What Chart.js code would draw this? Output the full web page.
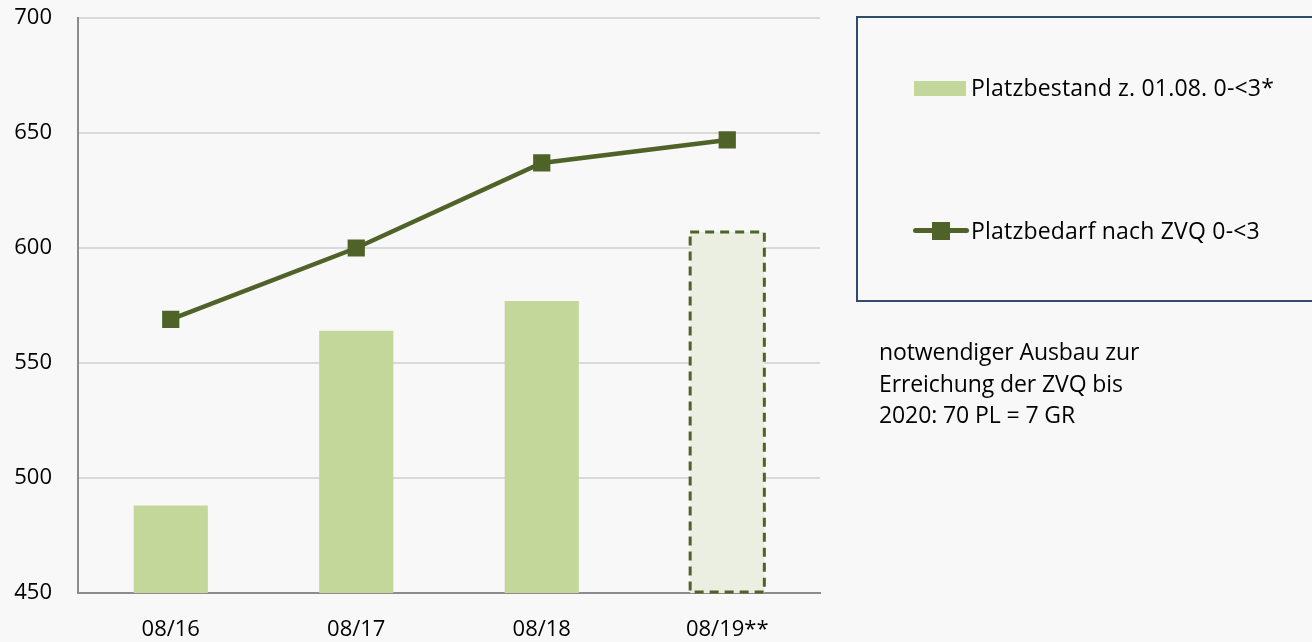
<!DOCTYPE html>
<html><head><meta charset="utf-8">
<script src="https://cdn.jsdelivr.net/npm/chart.js@4/dist/chart.umd.min.js"></script>
<style>
html,body{margin:0;padding:0;background:#f8f8f8;}
#wrap{position:relative;width:1312px;height:642px;font-family:"Open Sans",sans-serif;color:#000;}
canvas{position:absolute;left:0;top:0;}
#legend{position:absolute;left:856px;top:16px;width:470px;height:286px;border:2px solid #2f4b6e;box-sizing:border-box;}
.li{position:absolute;left:56px;font-size:23px;white-space:nowrap;line-height:30px;letter-spacing:0.2px;}
.sw{display:inline-block;vertical-align:middle;}
#note{position:absolute;left:879px;top:336px;font-size:23px;line-height:31.5px;letter-spacing:-0.1px;}
</style></head>
<body><div id="wrap">
<canvas id="c" width="1312" height="642"></canvas>
<div id="legend">
 <div class="li" style="top:54px"><span class="sw" style="width:52px;height:15px;background:#c4d79b;margin-right:5px;margin-top:-3px"></span>Platzbestand z. 01.08. 0-&lt;3*</div>
 <div class="li" style="top:197px"><span class="sw" style="position:relative;width:56px;height:18px;margin-right:2px;margin-left:-1px;margin-top:-3px"><span style="position:absolute;left:0;right:0;top:6px;height:5px;border-radius:3px;background:#4f6228"></span><span style="position:absolute;left:19px;top:0;width:18px;height:18px;background:#4f6228"></span></span>Platzbedarf nach ZVQ 0-&lt;3</div>
</div>
<div id="note">notwendiger Ausbau zur<br>Erreichung der ZVQ bis<br>2020: 70 PL = 7 GR</div>
</div>
<script>
const categories = ["08/16","08/17","08/18","08/19**"];
const platzbestand = [488, 564, 577, 607];
const platzbedarf = [569, 600, 637, 647];
const yTicks = [450, 500, 550, 600, 650, 700];

const dashedBar = {
  id:'dashedBar',
  afterDatasetsDraw(chart){
    const meta = chart.getDatasetMeta(1);
    const el = meta.data[3];
    if(!el) return;
    const ctx = chart.ctx;
    const p = el.getProps(['x','y','width','base'], true);
    const bottom = Math.min(p.base, chart.chartArea.bottom) - 1;
    ctx.save();
    ctx.strokeStyle = '#4f6228';
    ctx.lineWidth = 3;
    ctx.setLineDash([9,6]);
    ctx.strokeRect(p.x - p.width/2, p.y, p.width, bottom - p.y);
    ctx.restore();
  }
};

new Chart(document.getElementById('c'), {
  data:{
    labels: categories,
    datasets:[
      {type:'line', label:'Platzbedarf nach ZVQ 0-<3', data: platzbedarf, borderColor:'#4f6228', backgroundColor:'#4f6228', borderWidth:4.5, pointStyle:'rect', pointRadius:9, pointHoverRadius:9, order:0},
      {type:'bar', label:'Platzbestand z. 01.08. 0-<3*', data: platzbestand, backgroundColor: ['#c4d79b','#c4d79b','#c4d79b','#ebefe1'], categoryPercentage:1, barPercentage:0.4, order:1}
    ]
  },
  options:{
    responsive:false, animation:false, devicePixelRatio:1,
    layout:{padding:{top:18,right:492,bottom:0,left:0}},
    plugins:{legend:{display:false}, tooltip:{enabled:false}},
    scales:{
      x:{grid:{display:false, drawTicks:false}, border:{display:true,color:'#8c8c8c',width:2},
        ticks:{color:'#000', font:{family:'Open Sans', size:22}, padding:24},
        afterFit(s){s.height=49;}},
      y:{min:450,max:700, afterBuildTicks(s){s.ticks = yTicks.map(v=>({value:v}));},
        grid:{color:'#d9d9d9', lineWidth:2, drawTicks:false}, border:{display:true,color:'#8c8c8c',width:2},
        ticks:{color:'#000', font:{family:'Open Sans', size:22}, padding:26},
        afterFit(s){s.width=78; s.paddingTop=0; s.paddingBottom=0;}}
    }
  },
  plugins:[dashedBar]
});
</script>
</body></html>
